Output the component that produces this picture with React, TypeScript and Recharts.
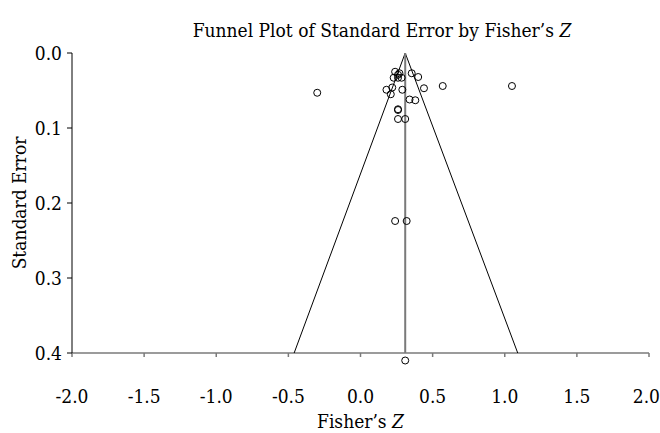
import { ScatterChart, Scatter, XAxis, YAxis, ReferenceDot } from "recharts";

// study estimates (Fisher's Z) and their standard errors
const studyZ = [
  -0.3, 0.24, 0.26, 0.27, 0.23, 0.26, 0.285, 0.355, 0.4, 0.18, 0.22, 0.21,
  0.29, 0.44, 0.57, 1.05, 0.34, 0.38, 0.26, 0.26, 0.26, 0.31, 0.24, 0.32,
];
const studySE = [
  0.053, 0.025, 0.029, 0.027, 0.033, 0.033, 0.033, 0.027, 0.032, 0.049, 0.046, 0.055,
  0.049, 0.047, 0.044, 0.044, 0.062, 0.063, 0.075, 0.076, 0.088, 0.088, 0.224, 0.224,
];

// pooled estimate and the funnel limits at the bottom of the plot
const pooledZ = 0.31;
const funnelZ = [-0.46, 0.31, 1.09];
const funnelSE = [0.4, 0, 0.4];
const meanSE = [0, 0.4];

// the lone marker drawn just under the axis
const belowZ = 0.31;
const belowSE = 0.41;

const xTicks = [-2, -1.5, -1, -0.5, 0, 0.5, 1, 1.5, 2];
const yTicks = [0, 0.1, 0.2, 0.3, 0.4];

const studies = studyZ.map((z, i) => ({ z, se: studySE[i] }));
const funnel = funnelZ.map((z, i) => ({ z, se: funnelSE[i] }));
const meanLine = meanSE.map((se) => ({ z: pooledZ, se }));

const FONT = "'DejaVu Serif Condensed', 'DejaVu Serif', serif";
const txt = { fontFamily: FONT, fontStretch: "condensed" } as const;
const FS = 19;

const OpenCircle = (props: any) => (
  <circle cx={props.cx} cy={props.cy} r={3.5} fill="none" stroke="#000" strokeWidth={1} />
);

const NoMark = () => <g />;

// x tick text; the last one is end-anchored so it stays inside the page
const XTick = ({ x, y, payload, index }: any) => {
  const last = index === xTicks.length - 1;
  return (
    <text
      x={last ? 660 : x}
      y={y}
      dy="0.71em"
      textAnchor={last ? "end" : "middle"}
      fontSize={FS}
      fill="#000"
      style={txt}
    >
      {Number(payload.value).toFixed(1)}
    </text>
  );
};

const YTick = ({ x, y, payload }: any) => (
  <text x={x} y={y} dy="0.35em" textAnchor="end" fontSize={FS} fill="#000" style={txt}>
    {Number(payload.value).toFixed(1)}
  </text>
);

export default function App() {
  return (
    <div style={{ position: "absolute", left: 0, top: 0, width: 660, height: 433, background: "#fff", ...txt }}>
      <div
        style={{
          position: "absolute",
          left: 182,
          top: 20,
          width: 400,
          textAlign: "center",
          fontSize: FS,
          lineHeight: "20px",
          color: "#000",
          ...txt,
        }}
      >
        Funnel Plot of Standard Error by Fisher’s <i>Z</i>
      </div>
      <ScatterChart width={660} height={433} margin={{ top: 53, right: 11, left: 0, bottom: 0 }}>
        <XAxis
          type="number"
          dataKey="z"
          domain={[-2, 2]}
          ticks={xTicks}
          interval={0}
          height={80}
          tickSize={4}
          tickMargin={33}
          stroke="#7a7a7a"
          strokeWidth={1.5}
          tick={<XTick />}
          label={({ viewBox }: any) => (
            <text
              x={viewBox.x + viewBox.width / 2}
              y={viewBox.y + 75}
              textAnchor="middle"
              fontSize={FS}
              style={txt}
              fill="#000"
            >
              Fisher’s <tspan fontStyle="italic">Z</tspan>
            </text>
          )}
        />
        <YAxis
          type="number"
          dataKey="se"
          domain={[0, 0.4]}
          reversed
          ticks={yTicks}
          interval={0}
          width={72}
          tickSize={5}
          tickMargin={5}
          stroke="#000"
          tick={<YTick />}
          label={({ viewBox }: any) => (
            <text
              x={19}
              y={viewBox.y + viewBox.height / 2}
              transform={`rotate(-90, 19, ${viewBox.y + viewBox.height / 2})`}
              textAnchor="middle"
              dominantBaseline="central"
              fontSize={FS}
              style={txt}
              fill="#000"
            >
              Standard Error
            </text>
          )}
        />
        <Scatter
          data={funnel}
          line={{ stroke: "#000", strokeWidth: 1 }}
          shape={NoMark}
          legendType="none"
          isAnimationActive={false}
        />
        <Scatter
          data={meanLine}
          line={{ stroke: "#7a7a7a", strokeWidth: 2 }}
          shape={NoMark}
          legendType="none"
          isAnimationActive={false}
        />
        <Scatter data={studies} shape={OpenCircle} isAnimationActive={false} />
        <ReferenceDot
          x={belowZ}
          y={belowSE}
          ifOverflow="visible"
          r={3.5}
          fill="none"
          stroke="#000"
          strokeWidth={1}
        />
      </ScatterChart>
    </div>
  );
}
